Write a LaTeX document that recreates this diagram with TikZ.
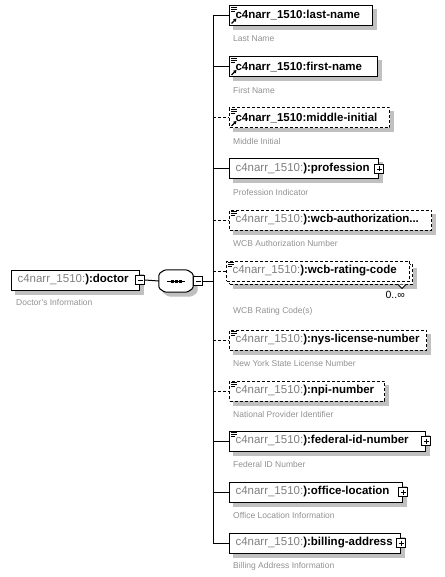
\documentclass[tikz,border=0pt]{standalone}
\usepackage{fontspec}
\setmainfont{Liberation Sans}
\usetikzlibrary{arrows.meta, positioning, backgrounds}
\definecolor{pfxgray}{RGB}{128,128,128}
\definecolor{lblgray}{RGB}{145,145,145}
\definecolor{shdgray}{RGB}{192,192,192}
\newcommand{\pfx}{\textcolor{pfxgray}{c4narr\_1510:}}

\begin{document}
\begin{tikzpicture}[
  x=1pt, y=-1pt,
  elem/.style    = {rectangle, draw, line width=1pt, fill=white, anchor=west,
                    text width=#1, align=left, inner xsep=6pt, inner ysep=0pt,
                    minimum height=20pt, font=\fontsize{11.5}{13}\selectfont},
  opt/.style     = {dash pattern=on 3pt off 2pt},
  plusbox/.style = {rectangle, draw, line width=0.8pt, fill=white,
                    minimum size=9pt, inner sep=0pt,
                    path picture={\draw[line width=0.8pt]
                      ([xshift=2pt]path picture bounding box.west) --
                      ([xshift=-2pt]path picture bounding box.east)
                      ([yshift=-2pt]path picture bounding box.north) --
                      ([yshift=2pt]path picture bounding box.south);}},
  minusbox/.style= {rectangle, draw, line width=0.8pt, fill=white,
                    minimum size=9pt, inner sep=0pt,
                    path picture={\draw[line width=0.8pt]
                      ([xshift=2pt]path picture bounding box.west) --
                      ([xshift=-2pt]path picture bounding box.east);}},
  seqbox/.style  = {rectangle, inner sep=0pt, minimum width=34pt, minimum height=22pt},
  lbl/.style     = {anchor=west, inner sep=0pt, text=lblgray,
                    font=\fontsize{8.5}{10}\selectfont},
  conn/.style    = {line width=1pt},
]
\useasboundingbox (0,0) rectangle (444,577);

% root and sequence
\node[elem=116] (doctor) at (11,280) {\pfx\textbf{):doctor}};
\node[minusbox] (docminus) at (doctor.east) {};
\node[lbl] (doctorlbl) at ([shift={(5,12)}]doctor.south west) {Doctor's Information};
\node[seqbox] (seq) at (176,281) {};
\foreach \s/\fc/\dc in {4/shdgray/shdgray, 0/white/black}
  \filldraw[fill=\fc, draw=\dc, line width=1pt, rounded corners=1.5pt]
    ([shift={(\s+6,\s)}]seq.north west) -- ([shift={(\s-6,\s)}]seq.north east)
    -- ([shift={(\s,\s+4)}]seq.north east) -- ([shift={(\s,\s-4)}]seq.south east)
    -- ([shift={(\s-6,\s)}]seq.south east) -- ([shift={(\s+6,\s)}]seq.south west)
    -- ([shift={(\s,\s-4)}]seq.south west) -- ([shift={(\s,\s+4)}]seq.north west) -- cycle;
\draw[line width=1pt] ([xshift=-9]seq.center) -- ([xshift=9]seq.center);
\foreach \dx in {-4,0,4}
  \fill ([xshift=\dx]seq.center) +(-1.5,-1.5) rectangle +(1.5,1.5);
\node[minusbox, right=0pt of seq] (seqminus) {};

% children
\node[elem=131] (lastname) at (229,15.5) {\textbf{c4narr\_1510:last-name}};
\node[lbl] (lastnamelbl) at ([shift={(4,13)}]lastname.south west) {Last Name};
\node[elem=136] (firstname) at (229,67) {\textbf{c4narr\_1510:first-name}};
\node[lbl] (firstnamelbl) at ([shift={(4,13)}]firstname.south west) {First Name};
\node[elem=148, opt] (midinit) at (229,118) {\textbf{c4narr\_1510:middle-initial}};
\node[lbl] (midinitlbl) at ([shift={(4,13)}]midinit.south west) {Middle Initial};
\node[elem=137] (profession) at (229,169) {\pfx\textbf{):profession}};
\node[plusbox] (profplus) at (profession.east) {};
\node[lbl] (professionlbl) at ([shift={(4,13)}]profession.south west) {Profession Indicator};
\node[elem=190, opt] (wcbauth) at (229,220) {\pfx\textbf{):wcb-authorization...}};
\node[lbl] (wcbauthlbl) at ([shift={(4,13)}]wcbauth.south west) {WCB Authorization Number};
\node[elem=171, opt] (wcbback) at (229,274) {};
\node[elem=171, opt] (wcbrate) at (226,271) {\pfx\textbf{):wcb-rating-code}};
\draw[line width=0.8pt, fill=white] ([xshift=-15]wcbback.south east) -- ++(4,4) -- ++(4,-4);
\node[inner sep=0pt, anchor=north east, font=\fontsize{10.5}{12}\selectfont] (wcbmult)
  at ([shift={(-8,6)}]wcbback.south east) {0..∞};
\node[lbl] (wcbratelbl) at ([shift={(7,30)}]wcbrate.south west) {WCB Rating Code(s)};
\node[elem=185, opt] (nyslic) at (229,340) {\pfx\textbf{):nys-license-number}};
\node[lbl] (nysliclbl) at ([shift={(4,13)}]nyslic.south west) {New York State License Number};
\node[elem=143, opt] (npi) at (229,391) {\pfx\textbf{):npi-number}};
\node[lbl] (npilbl) at ([shift={(4,13)}]npi.south west) {National Provider Identifier};
\node[elem=184] (fedid) at (229,441) {\pfx\textbf{):federal-id-number}};
\node[plusbox] (fedplus) at (fedid.east) {};
\node[lbl] (fedidlbl) at ([shift={(4,13)}]fedid.south west) {Federal ID Number};
\node[elem=161] (office) at (229,492) {\pfx\textbf{):office-location}};
\node[plusbox] (officeplus) at (office.east) {};
\node[lbl] (officelbl) at ([shift={(4,13)}]office.south west) {Office Location Information};
\node[elem=159] (billing) at (229,543) {\pfx\textbf{):billing-address}};
\node[plusbox] (billplus) at (billing.east) {};
\node[lbl] (billinglbl) at ([shift={(4,13)}]billing.south west) {Billing Address Information};

% icons
\foreach \n in {lastname, firstname, midinit, wcbrate, wcbauth, nyslic, npi, fedid}
  \draw[line width=0.9pt] ([shift={(2,2)}]\n.north west) -- ++(6,0)
    ([shift={(2,4)}]\n.north west) -- ++(6,0)
    ([shift={(2,6)}]\n.north west) -- ++(4,0);
\foreach \n in {lastname, firstname, midinit}
  \draw[line width=1.2pt, -{Triangle[length=3pt, width=3.5pt]}]
    ([shift={(2.5,-2.5)}]\n.south west) -- ++(5,-5);

% connectors
\coordinate (spine) at (213,0);
\draw[conn] (docminus.east) -- (seq.west);
\draw[conn] (seqminus.east) -- (seqminus.east -| spine);
\draw[conn] (lastname.west -| spine) -- (billing.west -| spine);
\foreach \n in {lastname, firstname, profession, fedid, office, billing}
  \draw[conn] (\n.west -| spine) -- (\n.west);
\foreach \n in {midinit, wcbauth, wcbrate, nyslic, npi}
  \draw[conn, opt] (\n.west -| spine) -- (\n.west);

% shadows
\begin{pgfonlayer}{background}
  \foreach \n in {doctor, lastname, firstname, midinit, profession, wcbauth,
                  wcbback, nyslic, npi, fedid, office, billing}
    \fill[shdgray] ([shift={(4,4)}]\n.north west) rectangle ([shift={(4,4)}]\n.south east);
\end{pgfonlayer}
\end{tikzpicture}
\end{document}
